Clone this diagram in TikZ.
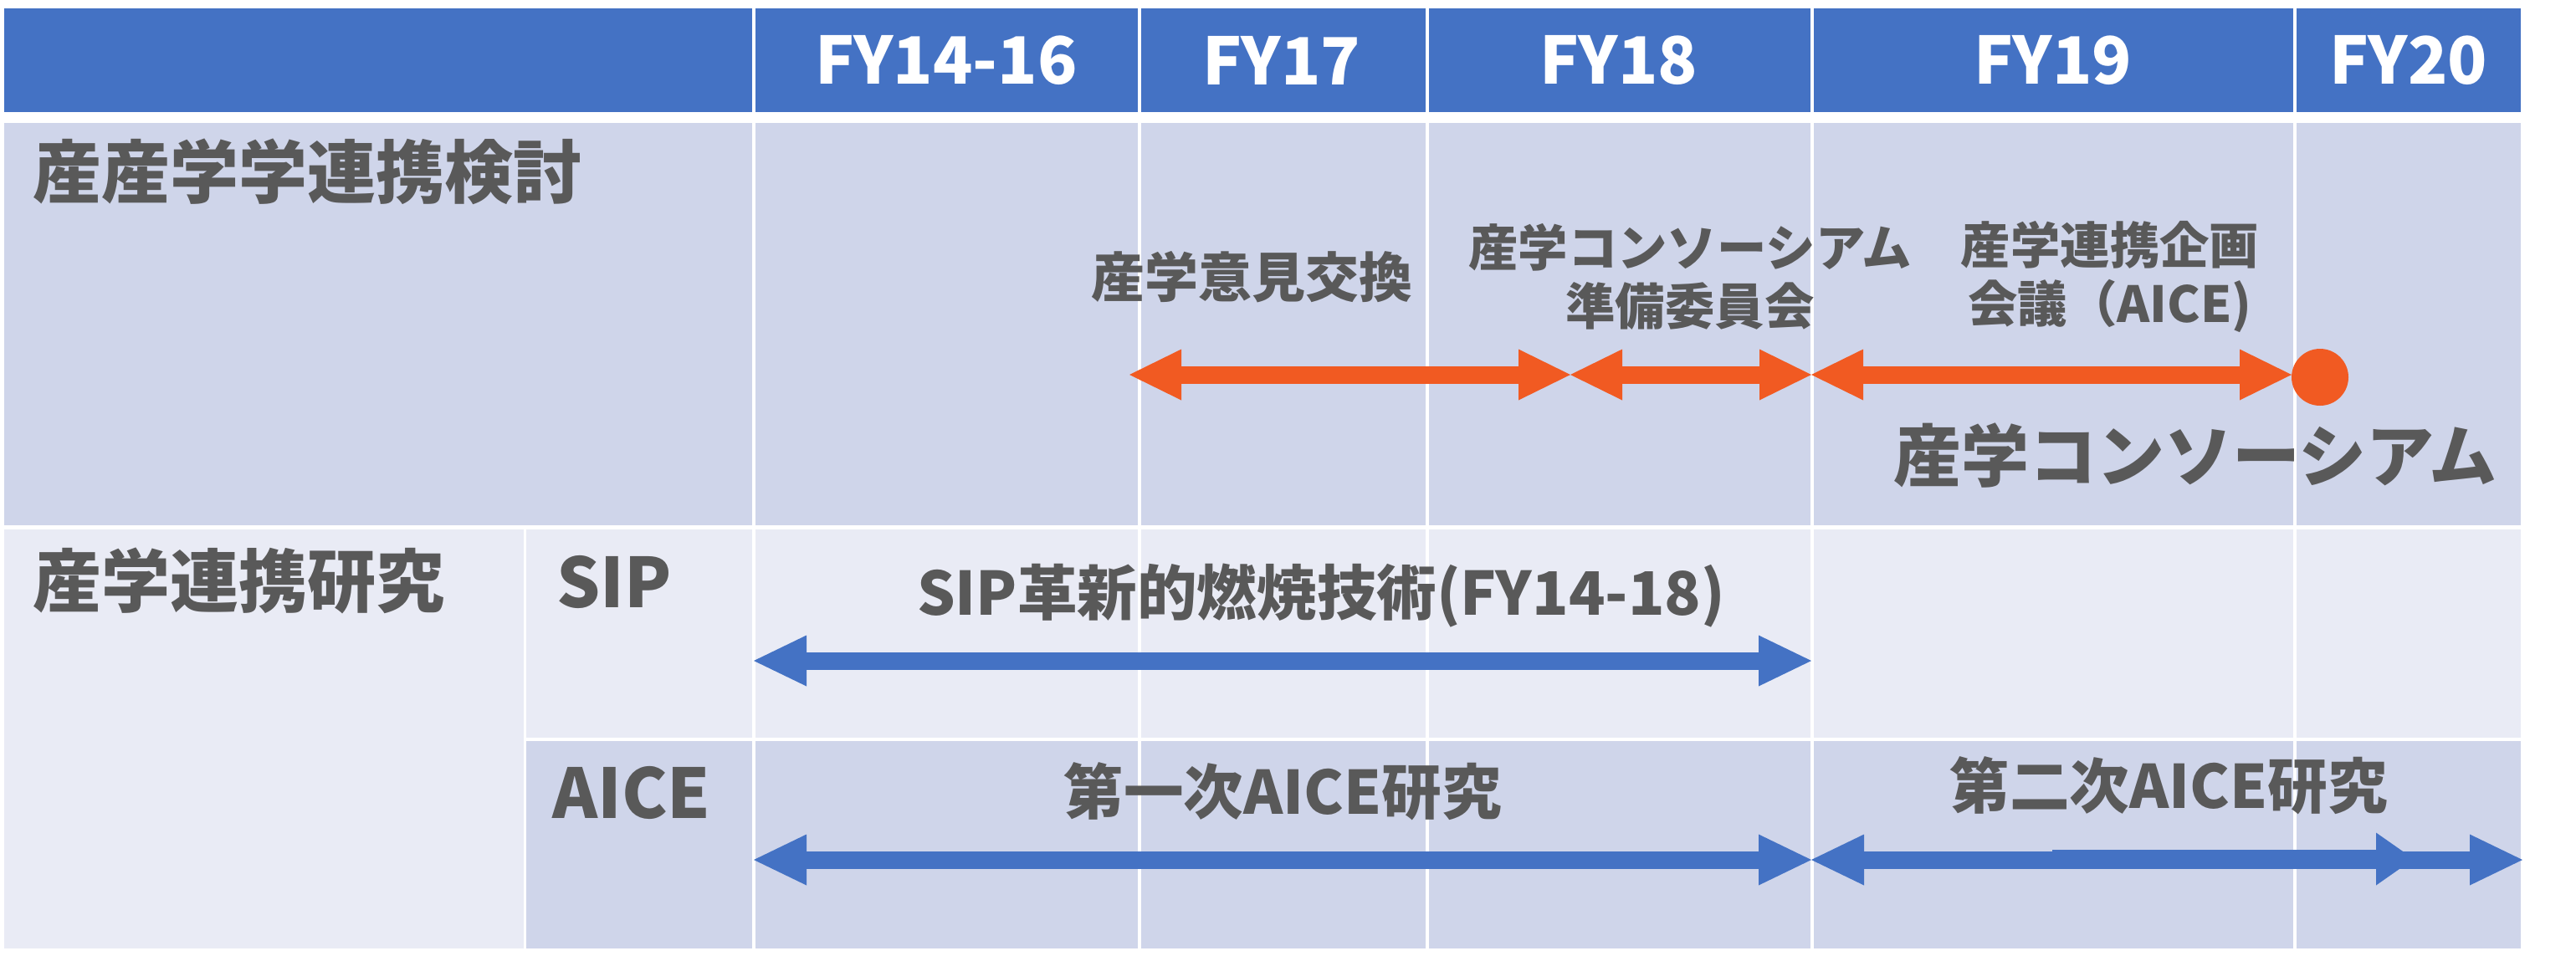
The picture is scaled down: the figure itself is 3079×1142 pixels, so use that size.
\documentclass[tikz,border=0pt]{standalone}
\usepackage{fontspec}
\setmainfont{Noto Sans CJK JP}
\usetikzlibrary{arrows.meta}
\definecolor{hdr}{HTML}{4472C4}
\definecolor{rowa}{HTML}{CFD5EA}
\definecolor{rowb}{HTML}{E9EBF5}
\definecolor{orng}{HTML}{F15A22}
\definecolor{txt}{HTML}{595959}
\begin{document}
\begin{tikzpicture}[x=0.5pt,y=-0.5pt,
  hd/.style={font=\fontsize{39}{42}\selectfont\bfseries, text=white, inner sep=0pt},
  lbl/.style={font=\fontsize{41}{44}\selectfont\bfseries, text=txt, inner sep=0pt},
  mid/.style={font=\fontsize{35.8}{40}\selectfont\bfseries, text=txt, inner sep=0pt},
  sm/.style={font=\fontsize{29.7}{35}\selectfont\bfseries, text=txt, inner sep=0pt, align=center},
  gridline/.style={draw=white, line width=2pt},
  oarr/.style={draw=orng, line width=10.5pt, {Triangle[length=31pt,width=30.5pt,line width=0pt]}-{Triangle[length=31pt,width=30.5pt,line width=0pt]}},
  barr/.style={draw=hdr, line width=10.5pt, {Triangle[length=31.5pt,width=30.5pt,line width=0pt]}-{Triangle[length=31.5pt,width=30.5pt,line width=0pt]}},
  barrone/.style={draw=hdr, line width=11.5pt, -{Triangle[length=22.5pt,width=31.5pt,line width=0pt]}},
  dot/.style={circle, fill=orng, inner sep=0pt, minimum size=34pt}
]
\useasboundingbox (0,0) rectangle (3079,1142);
% cell fills
\fill[hdr] (5,10) rectangle (3013,134);
\fill[rowa] (5,147) rectangle (3013,630);
\fill[rowb] (5,630) rectangle (3013,884);
\fill[rowb] (5,884) rectangle (628,1134);
\fill[rowa] (628,884) rectangle (3013,1134);
% white grid lines
\foreach \gx in {901,1362,1706,2166,2743} {
  \draw[gridline] (\gx,10) -- (\gx,1134);
}
\draw[white, line width=2.5pt] (5,630.5) -- (3013,630.5);
\draw[gridline] (627,884) -- (3013,884);
\draw[white, line width=1.5pt] (627,630) -- (627,1134);

% header texts
\node[hd] (h1) at (1131,72) {FY14-16};
\node[hd] (h2) at (1532,72) {FY17};
\node[hd] (h3) at (1935,72) {FY18};
\node[hd] (h4) at (2454,72) {FY19};
\node[hd] (h5) at (2879,72) {FY20};

% row labels
\node[lbl, anchor=west] (r1) at (39,205) {産産学学連携検討};
\node[lbl, anchor=west] (r2) at (39,694) {産学連携研究};
\node[lbl, anchor=west] (r3) at (665,696) {SIP};
\node[lbl, anchor=west] (r4) at (660,948) {AICE};

% orange row
\node[sm, font=\fontsize{32}{35}\selectfont\bfseries] (t1) at (1496,331) {産学意見交換};
\node[sm] (t2) at (2020,331) {産学コンソーシアム\\準備委員会};
\node[sm] (t3) at (2522,331) {産学連携企画\\会議（AICE)};
\coordinate (o1) at (1350,448);
\coordinate (o2) at (1877,448);
\coordinate (o3) at (2165,448);
\coordinate (o4) at (2739,448);
\draw[oarr] (o1) -- (o2);
\draw[oarr] (o2) -- (o3);
\draw[oarr] (o3) -- (o4);
\node[dot] (d) at (2773,451) {};
\node[lbl, font=\fontsize{40.5}{44}\selectfont\bfseries] (t4) at (2624,545) {産学コンソーシアム};

% SIP row
\node[mid] (t5) at (1579,712) {SIP革新的燃焼技術(FY14-18)};
\coordinate (s1) at (901,790);
\coordinate (s2) at (2165,790);
\draw[barr] (s1) -- (s2);

% AICE row
\node[mid] (t6) at (1533,946) {第一次AICE研究};
\node[mid] (t7) at (2592,939) {第二次AICE研究};
\coordinate (a1) at (901,1028);
\coordinate (a2) at (2165,1028);
\coordinate (a3) at (3015,1028);
\coordinate (b1) at (2453,1027);
\coordinate (b2) at (2885,1027);
\draw[barr] (a1) -- (a2);
\draw[barr] (a2) -- (a3);
\draw[barrone] (b1) -- (b2);
\end{tikzpicture}
\end{document}
